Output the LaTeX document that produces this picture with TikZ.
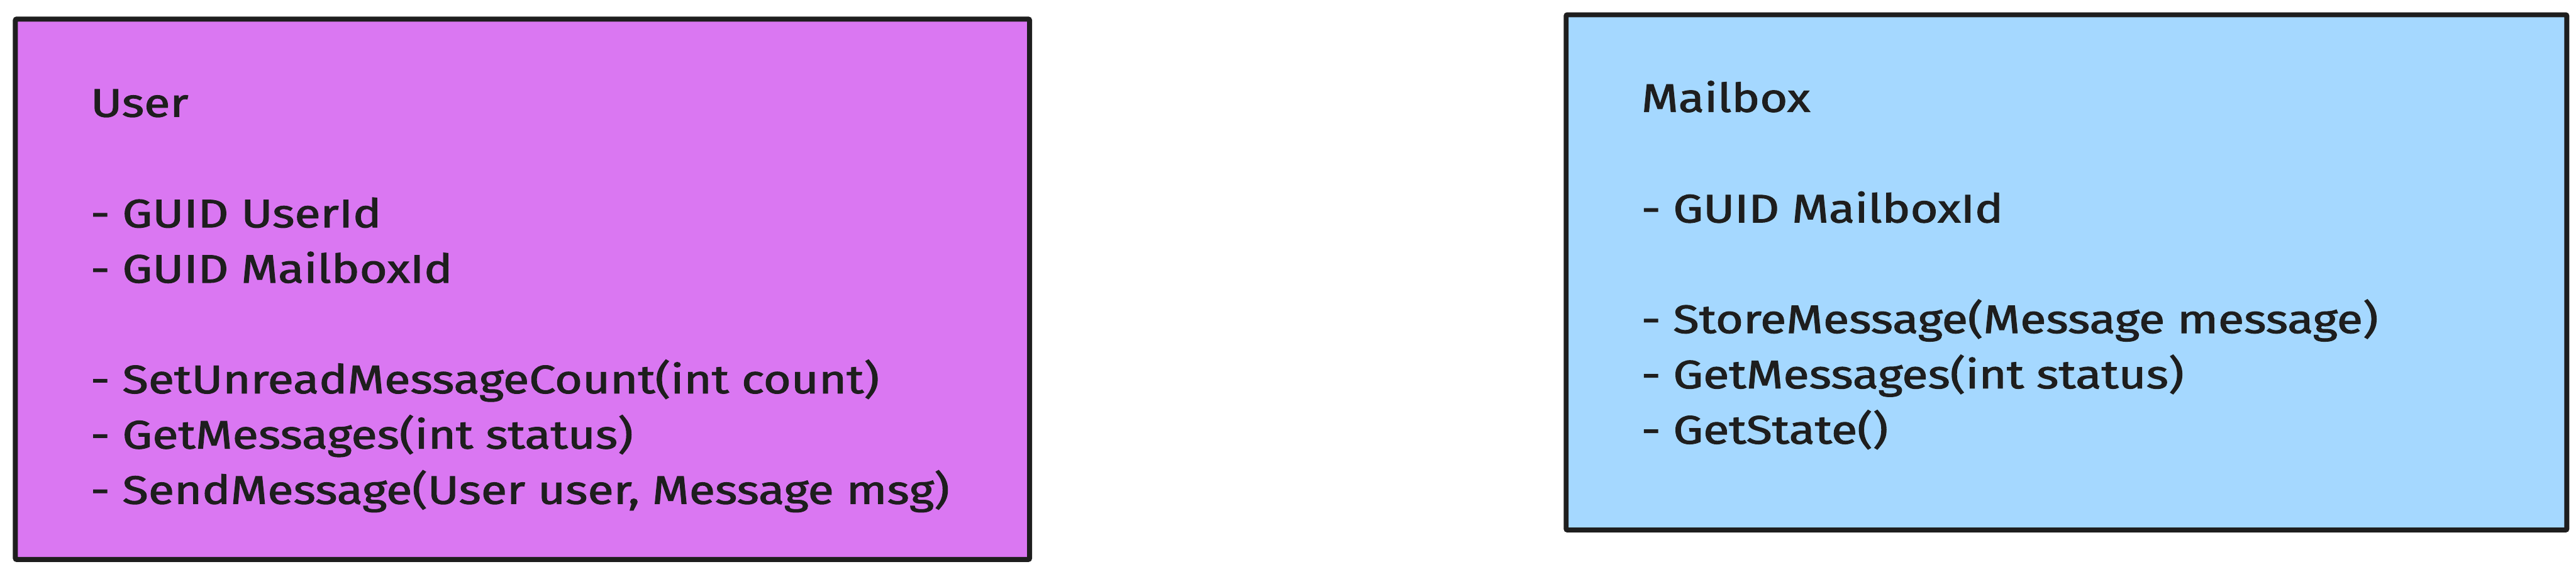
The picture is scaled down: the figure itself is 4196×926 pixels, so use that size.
\documentclass[tikz,border=0pt]{standalone}
\usepackage{fontspec}
\newfontfamily\handfont[FakeBold=1.6]{Fira Sans}
\definecolor{ink}{HTML}{1E1E1E}
\definecolor{userfill}{HTML}{DA77F2}
\definecolor{mailfill}{HTML}{A5D8FF}
\newsavebox\measurebox
\newcommand\stretchline[1]{\scalebox{\linescale}[1]{#1}}
\tikzset{
  classbox/.style={draw=ink, line width=2.3pt, rounded corners=0.6pt, rectangle, inner sep=0pt, anchor=north west},
  linetxt/.style={anchor=base west, inner sep=0pt, text=ink, font=\handfont\fontsize{18.4pt}{22pt}\selectfont}
}
\begin{document}
\sbox\measurebox{\handfont\fontsize{18.4pt}{22pt}\selectfont - SendMessage(User user, Message msg)}%
\edef\measw{\the\wd\measurebox}%
\pgfmathsetmacro\linescale{397.77/\measw}%
\begin{tikzpicture}[x=0.01cm, y=-0.01cm]
\useasboundingbox (0,0) rectangle (4196,926);
% boxes
\node[classbox, fill=userfill, minimum width=16.51cm, minimum height=8.79cm] (userbox) at (21,27) {};
\node[classbox, fill=mailfill, minimum width=16.29cm, minimum height=8.38cm] (mailbox) at (2547,20) {};
% User text
\node[linetxt] (u0) at (147,190) {\stretchline{User}};
\node[linetxt] (u1) at (147,370) {\stretchline{- GUID UserId}};
\node[linetxt] (u2) at (147,460) {\stretchline{- GUID MailboxId}};
\node[linetxt] (u3) at (147,640) {\stretchline{- SetUnreadMessageCount(int count)}};
\node[linetxt] (u4) at (147,730) {\stretchline{- GetMessages(int status)}};
\node[linetxt] (u5) at (147,820) {\stretchline{- SendMessage(User user, Message msg)}};
% Mailbox text
\node[linetxt] (m0) at (2673,182) {\stretchline{Mailbox}};
\node[linetxt] (m1) at (2673,362) {\stretchline{- GUID MailboxId}};
\node[linetxt] (m2) at (2673,542) {\stretchline{- StoreMessage(Message message)}};
\node[linetxt] (m3) at (2673,632) {\stretchline{- GetMessages(int status)}};
\node[linetxt] (m4) at (2673,722) {\stretchline{- GetState()}};
\end{tikzpicture}
\end{document}
